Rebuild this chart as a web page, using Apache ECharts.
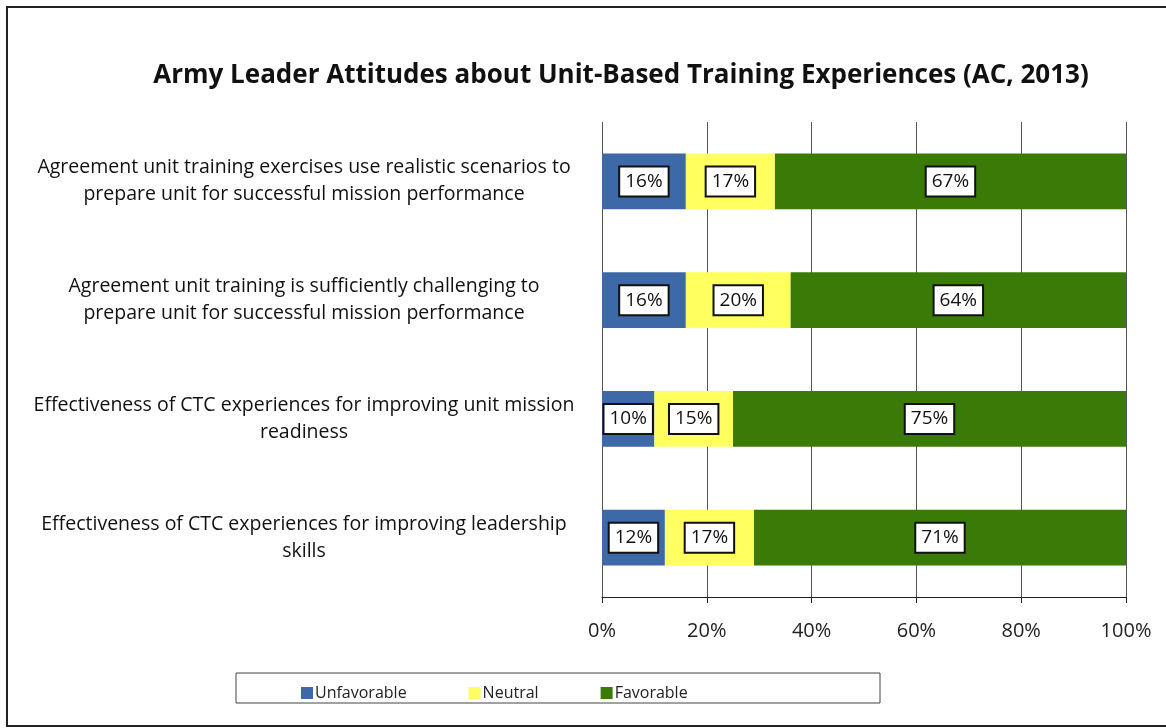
<!DOCTYPE html>
<html>
<head>
<meta charset="utf-8">
<title>Army Leader Attitudes about Unit-Based Training Experiences</title>
<script src="https://cdn.jsdelivr.net/npm/echarts@6/dist/echarts.min.js"></script>
<style>
    html, body { margin: 0; padding: 0; background: #fff; }
    #chart { width: 1166px; height: 728px; }
</style>
</head>
<body>
<div id="chart"></div>
<script>
// Chart data
// ------------------------------

var categories = [
    'Agreement unit training exercises use realistic scenarios to\nprepare unit for successful mission performance',
    'Agreement unit training is sufficiently challenging to\nprepare unit for successful mission performance',
    'Effectiveness of CTC experiences for improving unit mission\nreadiness',
    'Effectiveness of CTC experiences for improving leadership\nskills'
];
var unfavorable = [16, 16, 10, 12];
var neutral = [17, 20, 15, 17];
var favorable = [67, 64, 75, 71];
var xTicks = [0, 20, 40, 60, 80, 100];


// Chart setup
// ------------------------------

var chart_element = document.getElementById('chart');
var chart = echarts.init(chart_element, null, { renderer: 'canvas' });

var font = 'Open Sans';

// Boxed percentage label for each segment
var boxLabel = {
    show: true,
    position: 'inside',
    formatter: '{c}%',
    color: '#111',
    fontFamily: font,
    fontSize: 19,
    backgroundColor: '#fff',
    borderColor: '#111',
    borderWidth: 2,
    padding: [5, 5, 4, 5]
};

function makeSeries(name, values, color) {
    return {
        name: name,
        type: 'bar',
        stack: 'total',
        barWidth: '47%',
        data: values,
        itemStyle: { color: color },
        label: boxLabel
    };
}

var options = {
    animation: false,
    textStyle: { fontFamily: font },

    title: {
        text: 'Army Leader Attitudes about Unit-Based Training Experiences (AC, 2013)',
        left: 616,
        textAlign: 'center',
        top: 58,
        textStyle: {
            fontFamily: font,
            fontSize: 26,
            fontWeight: 'bold',
            color: '#111'
        }
    },

    legend: {
        left: 296,
        top: 680,
        itemWidth: 12,
        itemHeight: 12,
        itemGap: 62,
        icon: 'rect',
        textStyle: {
            fontFamily: font,
            fontSize: 16,
            color: '#222',
            padding: [0, 0, 0, -3]
        },
        data: ['Unfavorable', 'Neutral', 'Favorable']
    },

    grid: {
        left: 602,
        right: 40,
        top: 122,
        bottom: 131,
        containLabel: false
    },

    xAxis: {
        type: 'value',
        min: xTicks[0],
        max: xTicks[xTicks.length - 1],
        interval: 20,
        axisLine: { show: true, lineStyle: { color: '#222', width: 1 } },
        axisTick: { show: true, length: 6, inside: false, lineStyle: { color: '#222' } },
        splitLine: { show: true, lineStyle: { color: '#555', width: 1 } },
        axisLabel: {
            formatter: '{value}%',
            margin: 24,
            color: '#222',
            fontFamily: font,
            fontSize: 20
        }
    },

    yAxis: {
        type: 'category',
        inverse: true,
        data: categories,
        axisLine: { show: false },
        axisTick: { show: false },
        axisLabel: {
            align: 'center',
            margin: 298,
            color: '#111',
            fontFamily: font,
            fontSize: 19.5,
            lineHeight: 27
        }
    },

    series: [
        makeSeries('Unfavorable', unfavorable, '#3d69a8'),
        makeSeries('Neutral', neutral, '#ffff5f'),
        makeSeries('Favorable', favorable, '#3a7a06')
    ],

    graphic: [
        // Outer frame
        {
            type: 'rect',
            shape: { x: 7, y: 7, width: 1180, height: 719 },
            style: { fill: 'none', stroke: '#222', lineWidth: 2 },
            silent: true
        },
        // Legend box
        {
            type: 'rect',
            shape: { x: 236, y: 673, width: 644, height: 30 },
            style: { fill: 'none', stroke: '#444', lineWidth: 1 },
            silent: true,
            z: -1
        }
    ]
};

chart.setOption(options);
</script>
</body>
</html>
